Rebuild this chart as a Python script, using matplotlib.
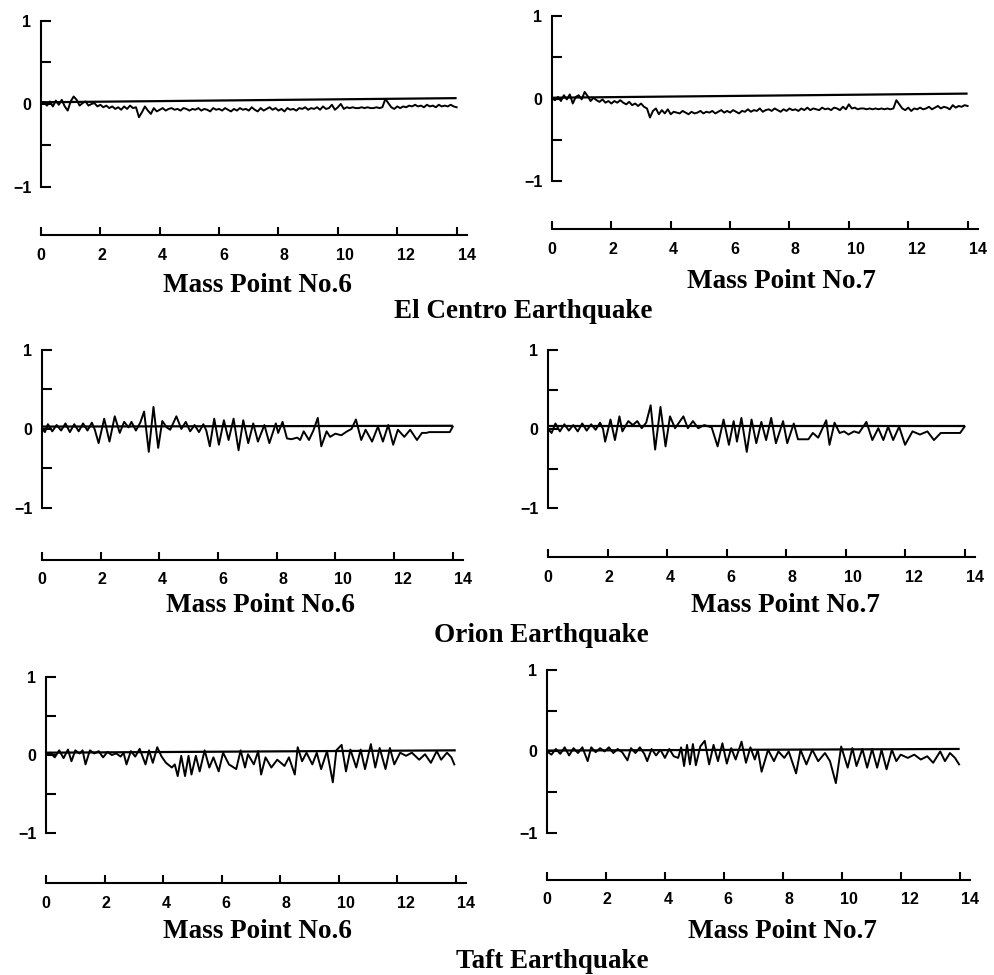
import numpy as np
import matplotlib.pyplot as plt

W, H = 994, 975

# El Centro traces, read every 0.1 s
el_centro_t = np.round(np.arange(0, 14.05, 0.1), 1)
el_centro_6 = [0.02, 0.02, -0.02, 0.03, -0.03, 0.04, -0.01, 0.05, -0.03, -0.08,
               0.03, 0.09, 0.05, -0.02, 0.01, 0.03, -0.02, 0.00, 0.01, -0.03,
               -0.01, -0.04, -0.02, -0.05, -0.03, -0.06, -0.04, -0.07, -0.03, -0.06,
               -0.02, -0.05, -0.04, -0.16, -0.10, -0.03, -0.08, -0.12, -0.05, -0.09,
               -0.07, -0.05, -0.08, -0.06, -0.05, -0.07, -0.06, -0.08, -0.05, -0.06,
               -0.08, -0.06, -0.07, -0.05, -0.08, -0.06, -0.07, -0.09, -0.05, -0.07,
               -0.06, -0.08, -0.05, -0.07, -0.09, -0.06, -0.08, -0.05, -0.07, -0.06,
               -0.08, -0.04, -0.07, -0.09, -0.05, -0.08, -0.06, -0.04, -0.07, -0.05,
               -0.08, -0.06, -0.09, -0.05, -0.07, -0.06, -0.08, -0.05, -0.06, -0.04,
               -0.07, -0.05, -0.06, -0.04, -0.07, -0.03, -0.06, -0.05, -0.01, -0.07,
               -0.04, 0.00, -0.06, -0.04, -0.05, -0.04, -0.05, -0.05, -0.04, -0.05,
               -0.04, -0.05, -0.05, -0.04, -0.05, -0.04, 0.06, 0.01, -0.04, -0.06,
               -0.03, -0.05, -0.03, -0.04, -0.02, -0.03, -0.01, -0.03, -0.02, -0.04,
               -0.01, -0.03, -0.02, -0.04, -0.01, -0.03, -0.02, -0.03, -0.01, -0.03,
               -0.04]
el_centro_7 = [0.00, -0.02, 0.02, -0.03, 0.04, -0.01, 0.05, -0.06, 0.02, 0.04,
               -0.01, 0.08, 0.03, -0.03, 0.01, -0.02, -0.04, -0.01, -0.05, -0.03,
               -0.06, -0.03, -0.05, -0.02, -0.05, -0.07, -0.04, -0.08, -0.06, -0.09,
               -0.06, -0.10, -0.12, -0.23, -0.15, -0.12, -0.19, -0.14, -0.18, -0.13,
               -0.19, -0.16, -0.17, -0.18, -0.15, -0.17, -0.19, -0.16, -0.18, -0.17,
               -0.15, -0.18, -0.16, -0.17, -0.15, -0.18, -0.16, -0.14, -0.17, -0.15,
               -0.17, -0.14, -0.16, -0.18, -0.15, -0.16, -0.13, -0.16, -0.14, -0.15,
               -0.12, -0.16, -0.14, -0.13, -0.15, -0.12, -0.14, -0.16, -0.13, -0.15,
               -0.12, -0.14, -0.13, -0.15, -0.12, -0.14, -0.11, -0.14, -0.12, -0.13,
               -0.14, -0.11, -0.13, -0.12, -0.14, -0.11, -0.12, -0.14, -0.10, -0.13,
               -0.07, -0.12, -0.11, -0.13, -0.12, -0.12, -0.13, -0.12, -0.13, -0.12,
               -0.13, -0.12, -0.13, -0.12, -0.13, -0.12, -0.02, -0.07, -0.12, -0.14,
               -0.11, -0.15, -0.12, -0.13, -0.11, -0.13, -0.12, -0.10, -0.13, -0.11,
               -0.09, -0.12, -0.10, -0.11, -0.13, -0.08, -0.11, -0.09, -0.10, -0.08,
               -0.09]

# Orion traces, read at peaks and troughs
orion_6_t = [0.0, 0.1, 0.2, 0.35, 0.5, 0.65, 0.8, 0.95, 1.1, 1.25, 1.4, 1.55, 1.7, 1.8,
             1.93, 2.12, 2.3, 2.48, 2.65, 2.8, 2.95, 3.05, 3.2, 3.35, 3.48, 3.64, 3.8, 3.96,
             4.1, 4.25, 4.37, 4.58, 4.75, 4.9, 5.05, 5.2, 5.35, 5.5, 5.6, 5.72, 5.87, 6.03,
             6.2, 6.36, 6.53, 6.7, 6.86, 7.03, 7.2, 7.36, 7.58, 7.75, 7.97, 8.05, 8.2, 8.35,
             8.5, 8.7, 8.8, 8.92, 9.1, 9.25, 9.4, 9.52, 9.7, 9.82, 10.0, 10.2, 10.4, 10.55,
             10.7, 10.88, 11.03, 11.25, 11.45, 11.62, 11.8, 11.97, 12.13, 12.35, 12.55, 12.78,
             12.95, 13.1, 13.2, 13.9, 14.0]
orion_6 = [0.00, -0.04, 0.06, -0.03, 0.05, -0.02, 0.07, -0.04, 0.06, -0.03, 0.07, -0.02, 0.08, -0.01,
           -0.18, 0.13, -0.16, 0.16, -0.05, 0.09, 0.02, 0.09, -0.02, 0.08, 0.22, -0.29, 0.28, -0.24,
           0.10, 0.02, -0.01, 0.16, 0.00, 0.09, -0.03, 0.05, -0.04, 0.06, -0.02, -0.22, 0.13, -0.20,
           0.11, -0.14, 0.13, -0.27, 0.11, -0.18, 0.07, -0.16, 0.05, -0.18, 0.07, -0.05, 0.09, -0.12,
           -0.13, -0.11, -0.14, -0.03, -0.14, -0.02, 0.14, -0.22, -0.03, -0.10, -0.06, -0.08, -0.03, 0.00,
           0.12, -0.14, -0.01, -0.16, 0.03, -0.16, 0.05, -0.20, -0.01, -0.10, -0.01, -0.14,
           -0.05, -0.05, -0.04, -0.04, 0.03]
orion_7_t = [0.0, 0.12, 0.25, 0.4, 0.55, 0.7, 0.85, 1.0, 1.15, 1.3, 1.45, 1.6, 1.75, 1.85,
             1.92, 2.1, 2.25, 2.4, 2.5, 2.7, 2.85, 3.0, 3.15, 3.3, 3.45, 3.6, 3.78, 3.95,
             4.1, 4.27, 4.55, 4.7, 4.87, 5.05, 5.25, 5.5, 5.7, 5.9, 6.08, 6.24, 6.35, 6.5,
             6.68, 6.84, 7.0, 7.17, 7.33, 7.5, 7.66, 7.9, 8.04, 8.26, 8.4, 8.75, 8.9, 9.08,
             9.35, 9.46, 9.63, 9.8, 9.95, 10.1, 10.28, 10.45, 10.7, 10.9, 11.1, 11.27, 11.43,
             11.6, 11.8, 12.0, 12.25, 12.5, 12.75, 12.97, 13.2, 13.85, 14.0]
orion_7 = [0.00, -0.05, 0.07, -0.03, 0.06, -0.02, 0.05, -0.03, 0.07, -0.02, 0.06, -0.01, 0.08, 0.00,
           -0.16, 0.12, -0.14, 0.16, -0.03, 0.10, 0.05, 0.10, 0.01, 0.08, 0.30, -0.26, 0.28, -0.22,
           0.16, 0.01, 0.16, 0.01, 0.10, 0.01, 0.05, 0.02, -0.22, 0.12, -0.20, 0.10, -0.16, 0.14,
           -0.29, 0.12, -0.18, 0.09, -0.14, 0.14, -0.18, 0.10, -0.18, 0.07, -0.13, -0.13, -0.05, -0.11,
           0.11, -0.20, 0.08, -0.05, -0.03, -0.07, -0.03, -0.05, 0.09, -0.14, 0.01, -0.14, 0.03,
           -0.14, 0.03, -0.20, -0.03, -0.07, -0.03, -0.14, -0.05, -0.05, 0.03]

# Taft traces, read at peaks and troughs
taft_6_t = [0.0, 0.15, 0.3, 0.45, 0.6, 0.75, 0.87, 1.0, 1.15, 1.25, 1.35, 1.5, 1.65, 1.8,
            1.95, 2.1, 2.25, 2.4, 2.55, 2.65, 2.75, 2.9, 3.05, 3.2, 3.4, 3.52, 3.65, 3.8,
            3.95, 4.1, 4.3, 4.4, 4.5, 4.62, 4.75, 4.87, 4.97, 5.12, 5.25, 5.42, 5.58, 5.72,
            5.9, 6.05, 6.25, 6.5, 6.65, 6.8, 6.9, 7.1, 7.25, 7.35, 7.5, 7.7, 7.9, 8.15,
            8.3, 8.5, 8.6, 8.75, 8.9, 9.1, 9.25, 9.4, 9.6, 9.8, 9.92, 10.1, 10.25, 10.4,
            10.6, 10.75, 10.9, 11.1, 11.25, 11.4, 11.6, 11.75, 11.9, 12.1, 12.3, 12.5,
            12.75, 12.95, 13.15, 13.35, 13.5, 13.7, 13.85, 13.95]
taft_6 = [0.00, 0.03, -0.03, 0.06, -0.04, 0.07, -0.08, 0.06, 0.02, 0.06, -0.12, 0.06, 0.02, 0.05,
          -0.03, 0.04, 0.00, 0.02, -0.02, 0.03, -0.12, 0.05, -0.02, 0.08, -0.12, 0.06, -0.10, 0.10,
          -0.02, -0.10, -0.16, -0.12, -0.27, -0.01, -0.27, -0.01, -0.25, -0.01, -0.21, 0.06, -0.16, -0.03,
          -0.21, 0.03, -0.12, -0.18, 0.06, -0.16, 0.01, -0.12, 0.05, -0.25, -0.03, -0.16, -0.06, -0.14,
          -0.03, -0.25, 0.10, -0.08, 0.03, -0.12, 0.03, -0.18, 0.05, -0.35, 0.06, 0.13, -0.21, 0.07,
          -0.16, 0.07, -0.18, 0.14, -0.16, 0.09, -0.18, 0.09, -0.12, 0.03, -0.01, 0.03,
          -0.06, 0.01, -0.10, 0.05, -0.06, 0.03, -0.03, -0.12]
taft_7_t = [0.0, 0.15, 0.3, 0.45, 0.6, 0.75, 0.9, 1.05, 1.2, 1.38, 1.5, 1.65, 1.8, 1.95,
            2.1, 2.25, 2.4, 2.55, 2.73, 2.85, 3.0, 3.15, 3.3, 3.4, 3.55, 3.7, 3.85, 4.0,
            4.15, 4.3, 4.45, 4.55, 4.65, 4.75, 4.85, 4.95, 5.05, 5.2, 5.35, 5.5, 5.65, 5.8,
            5.95, 6.1, 6.25, 6.4, 6.6, 6.75, 6.9, 7.05, 7.15, 7.28, 7.5, 7.7, 7.85, 8.05,
            8.2, 8.45, 8.6, 8.8, 9.0, 9.2, 9.43, 9.6, 9.8, 9.98, 10.2, 10.36, 10.5, 10.7,
            10.86, 11.03, 11.2, 11.35, 11.52, 11.7, 11.85, 12.0, 12.24, 12.46, 12.68, 12.9,
            13.1, 13.34, 13.5, 13.67, 13.84, 13.98]
taft_7 = [0.00, -0.04, 0.03, -0.03, 0.05, -0.05, 0.04, -0.02, 0.05, -0.12, 0.05, -0.01, 0.04, 0.00,
          0.05, -0.02, 0.03, -0.01, -0.11, 0.04, -0.02, 0.05, -0.03, -0.12, 0.03, -0.05, 0.02, -0.08,
          0.03, -0.06, -0.08, 0.05, -0.18, 0.08, -0.16, 0.09, -0.17, 0.06, 0.13, -0.16, 0.08, -0.12,
          0.10, -0.15, 0.04, -0.10, 0.12, -0.14, 0.05, -0.10, 0.02, -0.25, 0.02, -0.12, 0.00, -0.08,
          0.00, -0.27, 0.02, -0.16, 0.02, -0.12, -0.02, -0.12, -0.39, 0.06, -0.20, 0.04, -0.18, 0.03,
          -0.20, 0.03, -0.20, 0.02, -0.22, 0.02, -0.12, -0.04, -0.08, -0.04, -0.10, -0.06,
          -0.14, 0.00, -0.12, -0.02, -0.08, -0.16]

# straight reference line drawn in each panel (start, end)
baseline_t = [0, 14]
baselines = {'el6': [0.02, 0.07], 'el7': [0.01, 0.06],
             'or6': [0.03, 0.04], 'or7': [0.04, 0.04],
             'tf6': [0.03, 0.06], 'tf7': [0.01, 0.03]}

x_ticks = [0, 2, 4, 6, 8, 10, 12, 14]
y_ticks = [-1, -0.5, 0, 0.5, 1]
y_labels = ['\u22121', '', '0', '', '1']

TICK_FONT = {'family': 'Liberation Sans', 'weight': 'bold', 'size': 11.5}
CAPTION_FONT = {'family': 'Liberation Serif', 'weight': 'bold', 'size': 19.5}


def draw_panel(fig, left, right, top, xaxis, ybot, t, y, base):
    # pixel box -> figure fraction
    ax = fig.add_axes([left / W, 1 - xaxis / H, (right - left) / W, (xaxis - top) / H])
    ax.plot(baseline_t, base, color='black', lw=1.6, solid_capstyle='butt')
    ax.plot(t, y, color='black', lw=1.4)
    ax.set_xlim(0, 14)
    ax.set_ylim(ybot, 1)
    ax.patch.set_visible(False)
    for side in ['top', 'right']:
        ax.spines[side].set_visible(False)
    ax.spines['left'].set_bounds(-1, 1)
    ax.spines['left'].set_linewidth(1.5)
    ax.spines['bottom'].set_linewidth(1.5)

    ax.set_yticks(y_ticks)
    ax.set_yticklabels(y_labels, fontdict=TICK_FONT)
    ax.tick_params(axis='y', direction='in', length=7, width=1.5, pad=7)

    # printed labels sit slightly right of their ticks in the original
    ax.xaxis.remove_overlapping_locs = False
    ax.set_xticks(x_ticks)
    ax.set_xticklabels([])
    ax.set_xticks([v * 1.025 for v in x_ticks], labels=[str(v) for v in x_ticks], minor=True)
    for lab in ax.get_xticklabels(minor=True):
        lab.set_fontfamily(TICK_FONT['family'])
        lab.set_fontweight(TICK_FONT['weight'])
        lab.set_fontsize(TICK_FONT['size'])
    ax.tick_params(axis='x', which='major', direction='in', length=6, width=1.5)
    ax.tick_params(axis='x', which='minor', length=0, pad=9)
    return ax


def caption(fig, x, y, s):
    fig.text(x / W, 1 - y / H, s, ha='center', va='center', **CAPTION_FONT)


fig = plt.figure(figsize=(W / 100, H / 100), dpi=100)

draw_panel(fig, 41, 467, 21, 235, -1.58, el_centro_t, el_centro_6, baselines['el6'])
draw_panel(fig, 552, 978, 16, 229, -1.58, el_centro_t, el_centro_7, baselines['el7'])
draw_panel(fig, 42, 463, 350, 560, -1.66, orion_6_t, orion_6, baselines['or6'])
draw_panel(fig, 548, 975, 350, 557, -1.62, orion_7_t, orion_7, baselines['or7'])
draw_panel(fig, 46, 466, 677, 883, -1.64, taft_6_t, taft_6, baselines['tf6'])
draw_panel(fig, 547, 970, 670, 880, -1.58, taft_7_t, taft_7, baselines['tf7'])

caption(fig, 257, 285, 'Mass Point No.6')
caption(fig, 781, 282, 'Mass Point No.7')
caption(fig, 523, 311, 'El Centro Earthquake')
caption(fig, 260, 606, 'Mass Point No.6')
caption(fig, 785, 606, 'Mass Point No.7')
caption(fig, 541, 635, 'Orion Earthquake')
caption(fig, 257, 932, 'Mass Point No.6')
caption(fig, 782, 932, 'Mass Point No.7')
caption(fig, 552, 962, 'Taft Earthquake')

fig.savefig('out.png', dpi=100)
